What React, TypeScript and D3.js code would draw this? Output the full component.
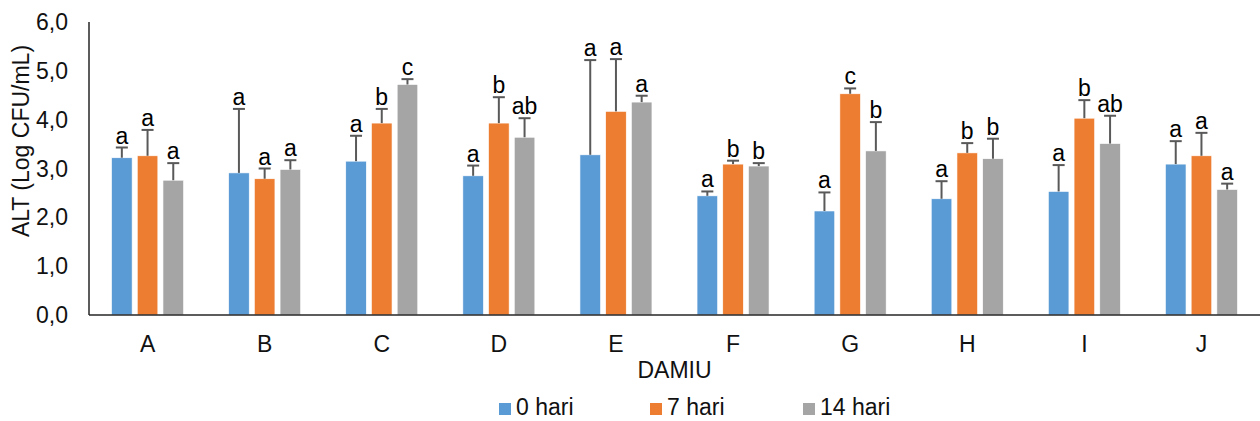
import React from 'react'
import * as d3 from 'd3'

const categories = ['A', 'B', 'C', 'D', 'E', 'F', 'G', 'H', 'I', 'J']
const seriesNames = ['0 hari', '7 hari', '14 hari']
const seriesColors = ['#5B9BD5', '#ED7D31', '#A5A5A5']

const hari0 = [3.22, 2.91, 3.15, 2.85, 3.28, 2.44, 2.13, 2.38, 2.53, 3.09]
const hari7 = [3.26, 2.79, 3.93, 3.93, 4.17, 3.09, 4.53, 3.32, 4.03, 3.26]
const hari14 = [2.76, 2.98, 4.72, 3.64, 4.36, 3.05, 3.36, 3.2, 3.51, 2.57]

const sd0 = [0.21, 1.31, 0.52, 0.21, 1.94, 0.09, 0.38, 0.36, 0.54, 0.47]
const sd7 = [0.53, 0.21, 0.29, 0.53, 1.07, 0.07, 0.11, 0.2, 0.37, 0.47]
const sd14 = [0.35, 0.19, 0.11, 0.39, 0.13, 0.06, 0.59, 0.41, 0.57, 0.12]

const letters0 = ['a', 'a', 'a', 'a', 'a', 'a', 'a', 'a', 'a', 'a']
const letters7 = ['a', 'a', 'b', 'b', 'a', 'b', 'c', 'b', 'b', 'a']
const letters14 = ['a', 'a', 'c', 'ab', 'a', 'b', 'b', 'b', 'ab', 'a']

const yTicks = [0, 1, 2, 3, 4, 5, 6]

const values = [hari0, hari7, hari14]
const errors = [sd0, sd7, sd14]
const letters = [letters0, letters7, letters14]

const W = 1260
const H = 421
const font = '"Liberation Sans", Arial, sans-serif'

export default function App() {
  const left = 89
  const right = 1260
  const top = 22
  const bottom = 315

  const x = d3.scaleBand().domain(categories).range([left, right])
  const y = d3.scaleLinear().domain([0, 6]).range([bottom, top])
  const groupW = 72
  const xs = d3.scaleBand().domain(seriesNames).range([0, groupW]).paddingInner(0.2)
  const fmt = (v: number) => d3.format('.1f')(v).replace('.', ',')

  const legendX = [499, 650, 803]

  return (
    <svg width={W} height={H} style={{ position: 'absolute', left: 0, top: 0 }} fontFamily={font}>
      <rect width={W} height={H} fill="#fff" />

      {/* bars, error bars, letters */}
      {seriesNames.map((s, si) => (
        <g key={s}>
          {categories.map((c, ci) => {
            const cx = x(c)! + x.bandwidth() / 2 - groupW / 2 + xs(s)!
            const bw = xs.bandwidth()
            const v = values[si][ci]
            const hi = v + errors[si][ci]
            const mid = cx + bw / 2
            return (
              <g key={c}>
                <rect x={cx} y={y(v)} width={bw} height={bottom - y(v)} fill={seriesColors[si]} stroke="#fff" strokeWidth={0.6} />
                <line x1={mid} x2={mid} y1={y(v)} y2={y(hi)} stroke="#595959" strokeWidth={2} />
                <line x1={mid - 6} x2={mid + 6} y1={y(hi)} y2={y(hi)} stroke="#595959" strokeWidth={2} />
                <text x={mid} y={y(hi) - 4} textAnchor="middle" fontSize={23} fill="#000">
                  {letters[si][ci]}
                </text>
              </g>
            )
          })}
        </g>
      ))}

      {/* axes */}
      <line x1={left} x2={left} y1={top} y2={bottom} stroke="#262626" strokeWidth={1.5} />
      <line x1={left} x2={right} y1={bottom} y2={bottom} stroke="#262626" strokeWidth={1.5} />

      {yTicks.map(t => (
        <text key={t} x={68} y={y(t)} dy="0.35em" textAnchor="end" fontSize={23} fill="#111">
          {fmt(t)}
        </text>
      ))}

      {categories.map(c => (
        <text key={c} x={x(c)! + x.bandwidth() / 2} y={352} textAnchor="middle" fontSize={23} fill="#111">
          {c}
        </text>
      ))}

      <text x={(left + right) / 2} y={378} textAnchor="middle" fontSize={23} fill="#111">
        DAMIU
      </text>

      <text transform={`translate(29,141) rotate(-90)`} textAnchor="middle" fontSize={23} fill="#111">
        ALT (Log CFU/mL)
      </text>

      {/* legend */}
      {seriesNames.map((s, i) => (
        <g key={s}>
          <rect x={legendX[i]} y={403} width={12} height={12} fill={seriesColors[i]} />
          <text x={legendX[i] + 17} y={415} fontSize={23} fill="#111">
            {s}
          </text>
        </g>
      ))}
    </svg>
  )
}
